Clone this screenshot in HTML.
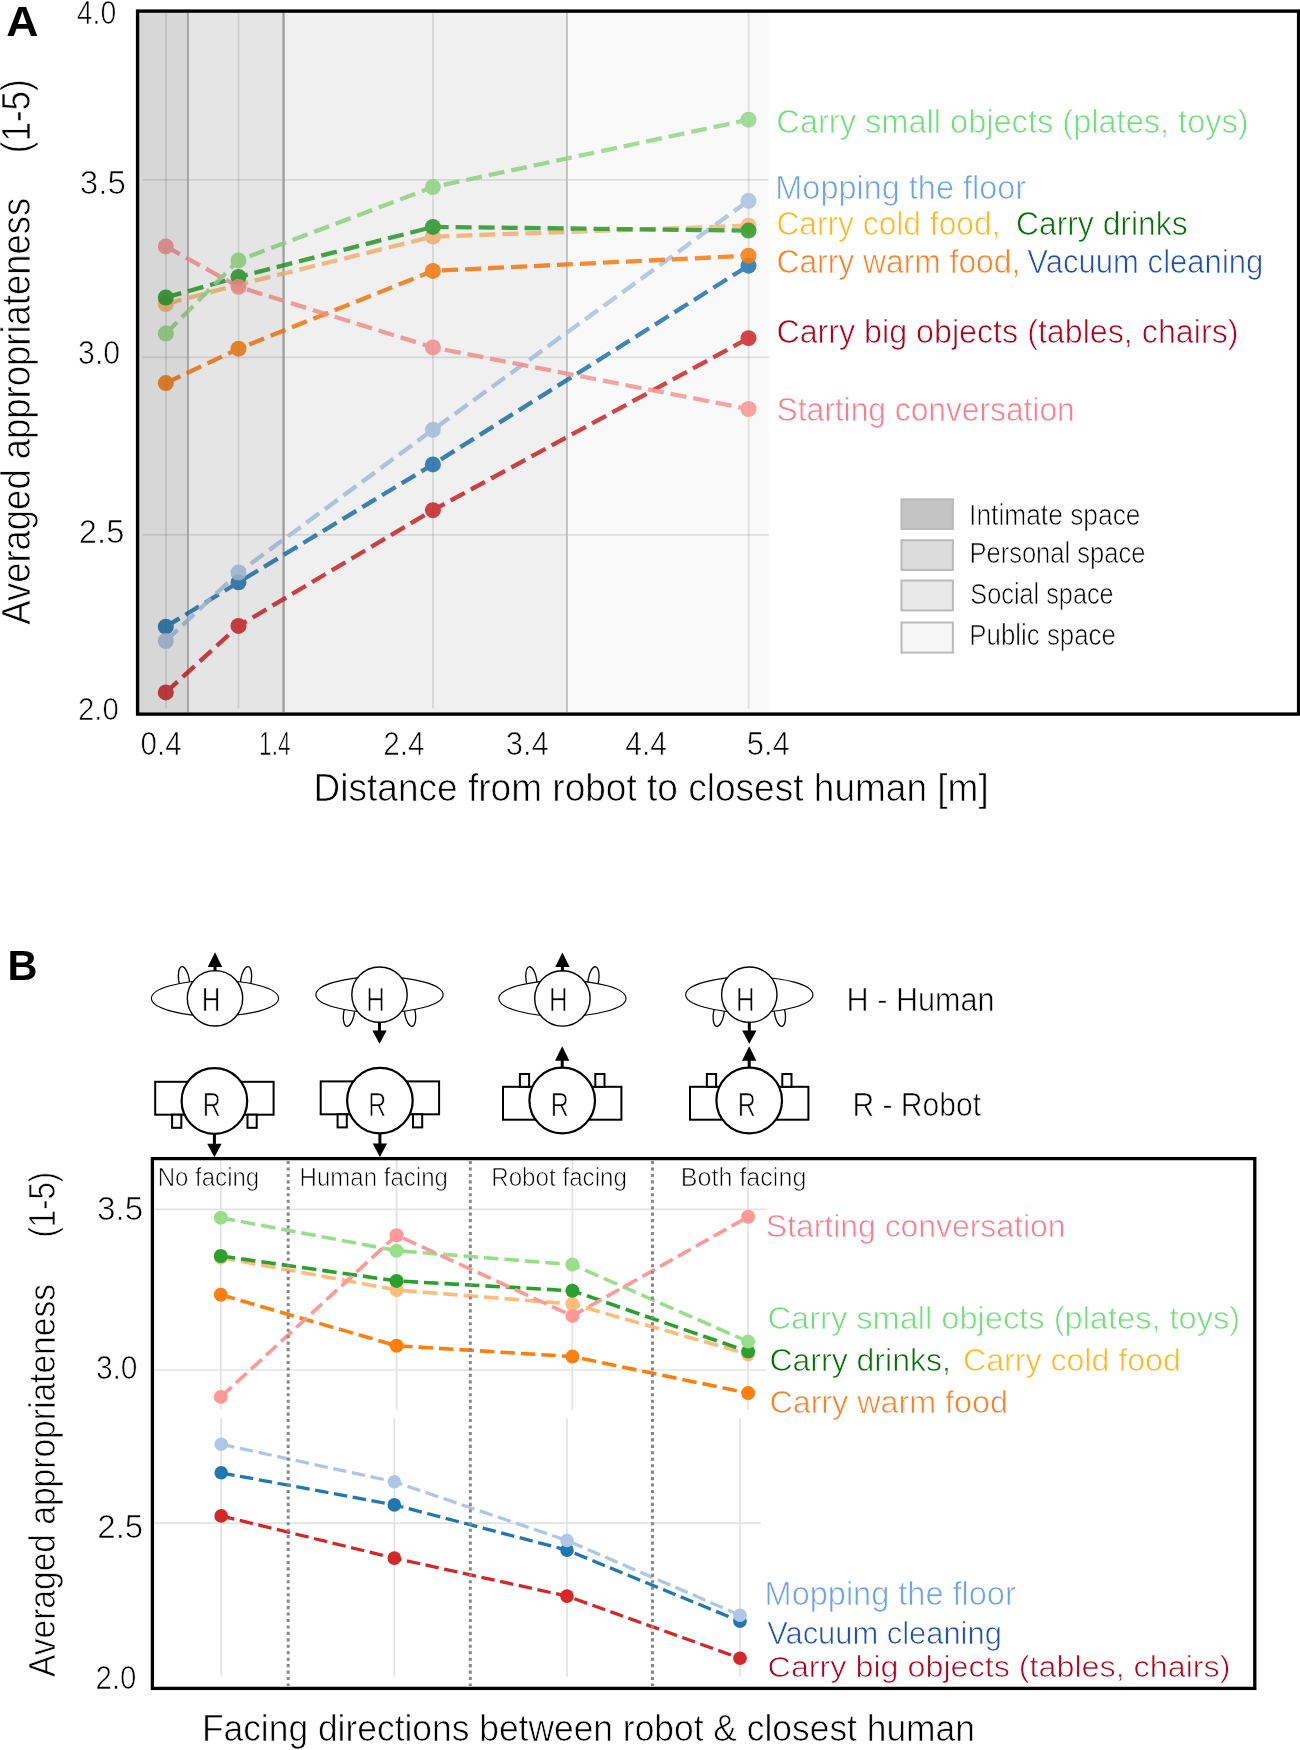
<!DOCTYPE html>
<html><head><meta charset="utf-8"><style>
html,body{margin:0;padding:0;background:#fff;width:1300px;height:1750px;overflow:hidden}
svg{display:block;will-change:transform}
text{font-family:"Liberation Sans",sans-serif;stroke:#fff;stroke-width:0.7px}
</style></head><body>
<svg width="1300" height="1750" viewBox="0 0 1300 1750">
<rect width="1300" height="1750" fill="#fff"/>
<line x1="166.0" y1="13" x2="166.0" y2="708.5" stroke="#000" stroke-opacity="0.10" stroke-width="1.8"/>
<line x1="238.5" y1="13" x2="238.5" y2="708.5" stroke="#000" stroke-opacity="0.10" stroke-width="1.8"/>
<line x1="433.0" y1="13" x2="433.0" y2="708.5" stroke="#000" stroke-opacity="0.10" stroke-width="1.8"/>
<line x1="748.6" y1="13" x2="748.6" y2="708.5" stroke="#000" stroke-opacity="0.10" stroke-width="1.8"/>
<line x1="142.5" y1="179.9" x2="769" y2="179.9" stroke="#000" stroke-opacity="0.10" stroke-width="1.8"/>
<line x1="142.5" y1="357.4" x2="769" y2="357.4" stroke="#000" stroke-opacity="0.10" stroke-width="1.8"/>
<line x1="142.5" y1="534.8" x2="769" y2="534.8" stroke="#000" stroke-opacity="0.10" stroke-width="1.8"/>
<line x1="188" y1="12.8" x2="188" y2="712.3" stroke="#b8b8b8" stroke-width="1.8"/>
<line x1="283.6" y1="12.8" x2="283.6" y2="712.3" stroke="#a8a8a8" stroke-width="2.2"/>
<line x1="567" y1="12.8" x2="567" y2="712.3" stroke="#c8c8c8" stroke-width="1.8"/>
<g opacity="0.86"><polyline points="165.8,626.7 238.5,582.3 432.9,464.4 748.5,265.7" fill="none" stroke="#1f77b4" stroke-width="4.3" stroke-dasharray="16 7"/>
<circle cx="165.8" cy="626.7" r="8" fill="#1f77b4"/>
<circle cx="238.5" cy="582.3" r="8" fill="#1f77b4"/>
<circle cx="432.9" cy="464.4" r="8" fill="#1f77b4"/>
<circle cx="748.5" cy="265.7" r="8" fill="#1f77b4"/>
</g>
<g opacity="0.86"><polyline points="165.8,641.0 238.5,572.6 432.9,429.8 748.5,200.8" fill="none" stroke="#aec7e8" stroke-width="4.3" stroke-dasharray="16 7"/>
<circle cx="165.8" cy="641.0" r="8" fill="#aec7e8"/>
<circle cx="238.5" cy="572.6" r="8" fill="#aec7e8"/>
<circle cx="432.9" cy="429.8" r="8" fill="#aec7e8"/>
<circle cx="748.5" cy="200.8" r="8" fill="#aec7e8"/>
</g>
<g opacity="0.86"><polyline points="165.8,304.0 238.5,284.7 432.9,236.6 748.5,225.7" fill="none" stroke="#ffbb78" stroke-width="4.3" stroke-dasharray="16 7"/>
<circle cx="165.8" cy="304.0" r="8" fill="#ffbb78"/>
<circle cx="238.5" cy="284.7" r="8" fill="#ffbb78"/>
<circle cx="432.9" cy="236.6" r="8" fill="#ffbb78"/>
<circle cx="748.5" cy="225.7" r="8" fill="#ffbb78"/>
</g>
<g opacity="0.86"><polyline points="165.8,297.5 238.5,277.0 432.9,226.9 748.5,230.6" fill="none" stroke="#2ca02c" stroke-width="4.3" stroke-dasharray="16 7"/>
<circle cx="165.8" cy="297.5" r="8" fill="#2ca02c"/>
<circle cx="238.5" cy="277.0" r="8" fill="#2ca02c"/>
<circle cx="432.9" cy="226.9" r="8" fill="#2ca02c"/>
<circle cx="748.5" cy="230.6" r="8" fill="#2ca02c"/>
</g>
<g opacity="0.86"><polyline points="165.8,383.1 238.5,348.7 432.9,270.9 748.5,255.7" fill="none" stroke="#ff7f0e" stroke-width="4.3" stroke-dasharray="16 7"/>
<circle cx="165.8" cy="383.1" r="8" fill="#ff7f0e"/>
<circle cx="238.5" cy="348.7" r="8" fill="#ff7f0e"/>
<circle cx="432.9" cy="270.9" r="8" fill="#ff7f0e"/>
<circle cx="748.5" cy="255.7" r="8" fill="#ff7f0e"/>
</g>
<g opacity="0.86"><polyline points="165.8,333.6 238.5,260.4 432.9,187.1 748.5,119.7" fill="none" stroke="#98df8a" stroke-width="4.3" stroke-dasharray="16 7"/>
<circle cx="165.8" cy="333.6" r="8" fill="#98df8a"/>
<circle cx="238.5" cy="260.4" r="8" fill="#98df8a"/>
<circle cx="432.9" cy="187.1" r="8" fill="#98df8a"/>
<circle cx="748.5" cy="119.7" r="8" fill="#98df8a"/>
</g>
<g opacity="0.86"><polyline points="165.8,692.4 238.5,625.9 432.9,510.2 748.5,338.2" fill="none" stroke="#d62728" stroke-width="4.3" stroke-dasharray="16 7"/>
<circle cx="165.8" cy="692.4" r="8" fill="#d62728"/>
<circle cx="238.5" cy="625.9" r="8" fill="#d62728"/>
<circle cx="432.9" cy="510.2" r="8" fill="#d62728"/>
<circle cx="748.5" cy="338.2" r="8" fill="#d62728"/>
</g>
<g opacity="0.86"><polyline points="165.8,246.4 238.5,286.8 432.9,347.4 748.5,409.0" fill="none" stroke="#ff9896" stroke-width="4.3" stroke-dasharray="16 7"/>
<circle cx="165.8" cy="246.4" r="8" fill="#ff9896"/>
<circle cx="238.5" cy="286.8" r="8" fill="#ff9896"/>
<circle cx="432.9" cy="347.4" r="8" fill="#ff9896"/>
<circle cx="748.5" cy="409.0" r="8" fill="#ff9896"/>
</g>
<rect x="139.3" y="12.8" width="629.2" height="699.5" fill="#000" fill-opacity="0.024"/>
<rect x="139.3" y="12.8" width="427.7" height="699.5" fill="#000" fill-opacity="0.036"/>
<rect x="139.3" y="12.8" width="144.2" height="699.5" fill="#000" fill-opacity="0.042"/>
<rect x="139.3" y="12.8" width="48.7" height="699.5" fill="#000" fill-opacity="0.057"/>
<rect x="137.6" y="11.1" width="1161" height="703" fill="none" stroke="#000" stroke-width="3.4"/>
<rect x="901.5" y="499.3" width="51.4" height="29.7" fill="#c4c4c4" stroke="#bababa" stroke-width="2"/>
<rect x="901.5" y="540.2" width="51.4" height="29.7" fill="#dcdcdc" stroke="#bababa" stroke-width="2"/>
<rect x="901.5" y="580.5" width="51.4" height="29.9" fill="#e9e9e9" stroke="#bababa" stroke-width="2"/>
<rect x="901.5" y="622.5" width="51.4" height="30.1" fill="#f6f6f6" stroke="#bababa" stroke-width="2"/>
<text transform="translate(969.06,524.60) scale(0.9194,1)" font-size="28.70" fill="#000">Intimate space</text>
<text transform="translate(969.39,563.00) scale(0.8908,1)" font-size="28.70" fill="#000">Personal space</text>
<text transform="translate(970.36,603.80) scale(0.8808,1)" font-size="28.70" fill="#000">Social space</text>
<text transform="translate(969.37,645.40) scale(0.9006,1)" font-size="28.70" fill="#000">Public space</text>
<text transform="translate(776.37,132.80) scale(0.9860,1)" font-size="33.04" fill="#6ee07a">Carry small objects (plates, toys)</text>
<text transform="translate(775.32,198.80) scale(1.0004,1)" font-size="32.46" fill="#6aa3e8">Mopping the floor</text>
<text transform="translate(776.41,235.40) scale(0.9779,1)" font-size="32.46" fill="#ffb81c">Carry cold food,</text>
<text transform="translate(1015.91,235.40) scale(0.9819,1)" font-size="32.46" fill="#007000">Carry drinks</text>
<text transform="translate(776.41,272.80) scale(0.9801,1)" font-size="32.46" fill="#ff7f20">Carry warm food,</text>
<text transform="translate(1027.34,272.80) scale(0.9572,1)" font-size="32.46" fill="#1f4fad">Vacuum cleaning</text>
<text transform="translate(776.39,343.20) scale(0.9591,1)" font-size="33.62" fill="#b0001e">Carry big objects (tables, chairs)</text>
<text transform="translate(776.57,420.80) scale(0.9443,1)" font-size="33.62" fill="#ff7a8c">Starting conversation</text>
<text transform="translate(76.86,24.20) scale(0.8467,1)" font-size="33.48" fill="#000">4.0</text>
<text transform="translate(79.75,194.00) scale(0.9966,1)" font-size="33.33" fill="#000">3.5</text>
<text transform="translate(78.07,364.20) scale(0.9119,1)" font-size="33.19" fill="#000">3.0</text>
<text transform="translate(78.87,542.80) scale(0.9640,1)" font-size="33.91" fill="#000">2.5</text>
<text transform="translate(77.93,720.40) scale(0.9116,1)" font-size="32.17" fill="#000">2.0</text>
<text transform="translate(140.52,755.00) scale(0.8831,1)" font-size="33.48" fill="#000">0.4</text>
<text transform="translate(259.10,755.00) scale(0.6774,1)" font-size="33.48" fill="#000">1.4</text>
<text transform="translate(383.31,755.00) scale(0.8876,1)" font-size="33.48" fill="#000">2.4</text>
<text transform="translate(505.74,755.00) scale(0.9265,1)" font-size="33.48" fill="#000">3.4</text>
<text transform="translate(625.33,755.00) scale(0.8916,1)" font-size="33.48" fill="#000">4.4</text>
<text transform="translate(746.76,755.00) scale(0.9260,1)" font-size="33.48" fill="#000">5.4</text>
<text transform="translate(313.54,800.80) scale(0.9759,1)" font-size="37.97" fill="#000">Distance from robot to closest human [m]</text>
<text transform="translate(29.70,624.69) rotate(-90) scale(0.8983,1)" font-size="40.58" fill="#000">Averaged appropriateness</text>
<text transform="translate(29.70,153.19) rotate(-90) scale(0.8617,1)" font-size="40.58" fill="#000">(1-5)</text>
<text transform="translate(6.18,35.80) scale(1.0299,1)" font-size="43.33" fill="#000" font-weight="bold" style="stroke:none">A</text>
<text transform="translate(7.40,979.70) scale(0.9603,1)" font-size="43.19" fill="#000" font-weight="bold" style="stroke:none">B</text>
<ellipse cx="184.0" cy="980.3" rx="5.3" ry="13.8" transform="rotate(-9 184.0 980.3)" fill="#fff" stroke="#000" stroke-width="1.3"/>
<ellipse cx="246.0" cy="980.3" rx="5.3" ry="13.8" transform="rotate(9 246.0 980.3)" fill="#fff" stroke="#000" stroke-width="1.3"/>
<ellipse cx="215.0" cy="998.3" rx="63.6" ry="17.8" fill="#fff" stroke="#000" stroke-width="1.15"/>
<circle cx="215.0" cy="998.3" r="27.7" fill="#fff" stroke="#000" stroke-width="1.4"/>
<rect x="213.5" y="966.3" width="3" height="5" fill="#000"/>
<polygon points="207.8,967.0 222.2,967.0 215.0,952.3" fill="#000"/>
<text transform="translate(201.67,1011.30) scale(0.7749,1)" font-size="33.33" fill="#000">H</text>
<rect x="155.2" y="1081.8" width="118.4" height="32.9" fill="#fff" stroke="#000" stroke-width="2"/>
<rect x="172.1" y="1114.7" width="9.2" height="13.1" fill="#fff" stroke="#000" stroke-width="2"/>
<rect x="247.5" y="1114.7" width="9.2" height="13.1" fill="#fff" stroke="#000" stroke-width="2"/>
<circle cx="214.4" cy="1101.0" r="32.8" fill="#fff" stroke="#000" stroke-width="2.2"/>
<rect x="212.9" y="1134.0" width="3" height="10.5" fill="#000"/>
<polygon points="207.20000000000002,1143.8 221.6,1143.8 214.4,1157.3" fill="#000"/>
<text transform="translate(202.84,1115.50) scale(0.7626,1)" font-size="32.75" fill="#000">R</text>
<ellipse cx="349.0" cy="1012.7" rx="5.3" ry="13.8" transform="rotate(9 349.0 1012.7)" fill="#fff" stroke="#000" stroke-width="1.3"/>
<ellipse cx="410.0" cy="1012.7" rx="5.3" ry="13.8" transform="rotate(-9 410.0 1012.7)" fill="#fff" stroke="#000" stroke-width="1.3"/>
<ellipse cx="379.5" cy="994.7" rx="63.6" ry="17.8" fill="#fff" stroke="#000" stroke-width="1.15"/>
<circle cx="379.5" cy="994.7" r="27.7" fill="#fff" stroke="#000" stroke-width="1.4"/>
<rect x="378.0" y="1021.7" width="3" height="9.5" fill="#000"/>
<polygon points="372.3,1030.5 386.7,1030.5 379.5,1043.7" fill="#000"/>
<text transform="translate(366.17,1011.30) scale(0.7749,1)" font-size="33.33" fill="#000">H</text>
<rect x="320.7" y="1081.4" width="118.4" height="32.9" fill="#fff" stroke="#000" stroke-width="2"/>
<rect x="337.6" y="1114.3" width="9.2" height="13.1" fill="#fff" stroke="#000" stroke-width="2"/>
<rect x="413.0" y="1114.3" width="9.2" height="13.1" fill="#fff" stroke="#000" stroke-width="2"/>
<circle cx="379.9" cy="1100.6" r="32.8" fill="#fff" stroke="#000" stroke-width="2.2"/>
<rect x="378.4" y="1133.6" width="3" height="10.5" fill="#000"/>
<polygon points="372.7,1143.3999999999999 387.09999999999997,1143.3999999999999 379.9,1156.8999999999999" fill="#000"/>
<text transform="translate(368.34,1115.50) scale(0.7626,1)" font-size="32.75" fill="#000">R</text>
<ellipse cx="531.4" cy="980.4" rx="5.3" ry="13.8" transform="rotate(-9 531.4 980.4)" fill="#fff" stroke="#000" stroke-width="1.3"/>
<ellipse cx="593.4" cy="980.4" rx="5.3" ry="13.8" transform="rotate(9 593.4 980.4)" fill="#fff" stroke="#000" stroke-width="1.3"/>
<ellipse cx="562.4" cy="998.4" rx="63.6" ry="17.8" fill="#fff" stroke="#000" stroke-width="1.15"/>
<circle cx="562.4" cy="998.4" r="27.7" fill="#fff" stroke="#000" stroke-width="1.4"/>
<rect x="560.9" y="966.4" width="3" height="5" fill="#000"/>
<polygon points="555.1999999999999,967.1 569.6,967.1 562.4,952.4" fill="#000"/>
<text transform="translate(549.07,1011.30) scale(0.7749,1)" font-size="33.33" fill="#000">H</text>
<rect x="503.00000000000006" y="1086.8" width="118.4" height="32.9" fill="#fff" stroke="#000" stroke-width="2"/>
<rect x="519.9" y="1074.0" width="9.2" height="12.8" fill="#fff" stroke="#000" stroke-width="2"/>
<rect x="595.3" y="1074.0" width="9.2" height="12.8" fill="#fff" stroke="#000" stroke-width="2"/>
<circle cx="562.2" cy="1100.5" r="32.8" fill="#fff" stroke="#000" stroke-width="2.2"/>
<rect x="560.7" y="1060.0" width="3" height="7.5" fill="#000"/>
<polygon points="555.0,1060.7 569.4000000000001,1060.7 562.2,1046.2" fill="#000"/>
<text transform="translate(550.64,1115.50) scale(0.7626,1)" font-size="32.75" fill="#000">R</text>
<ellipse cx="718.8" cy="1012.7" rx="5.3" ry="13.8" transform="rotate(9 718.8 1012.7)" fill="#fff" stroke="#000" stroke-width="1.3"/>
<ellipse cx="779.8" cy="1012.7" rx="5.3" ry="13.8" transform="rotate(-9 779.8 1012.7)" fill="#fff" stroke="#000" stroke-width="1.3"/>
<ellipse cx="749.3" cy="994.7" rx="63.6" ry="17.8" fill="#fff" stroke="#000" stroke-width="1.15"/>
<circle cx="749.3" cy="994.7" r="27.7" fill="#fff" stroke="#000" stroke-width="1.4"/>
<rect x="747.8" y="1021.7" width="3" height="9.5" fill="#000"/>
<polygon points="742.0999999999999,1030.5 756.5,1030.5 749.3,1043.7" fill="#000"/>
<text transform="translate(735.97,1011.30) scale(0.7749,1)" font-size="33.33" fill="#000">H</text>
<rect x="690.0" y="1086.8" width="118.4" height="32.9" fill="#fff" stroke="#000" stroke-width="2"/>
<rect x="706.9" y="1074.0" width="9.2" height="12.8" fill="#fff" stroke="#000" stroke-width="2"/>
<rect x="782.3" y="1074.0" width="9.2" height="12.8" fill="#fff" stroke="#000" stroke-width="2"/>
<circle cx="749.2" cy="1100.5" r="32.8" fill="#fff" stroke="#000" stroke-width="2.2"/>
<rect x="747.7" y="1060.0" width="3" height="7.5" fill="#000"/>
<polygon points="742.0,1060.7 756.4000000000001,1060.7 749.2,1046.2" fill="#000"/>
<text transform="translate(737.64,1115.50) scale(0.7626,1)" font-size="32.75" fill="#000">R</text>
<text transform="translate(846.57,1011.30) scale(0.9072,1)" font-size="33.77" fill="#000">H - Human</text>
<text transform="translate(852.42,1115.70) scale(0.8944,1)" font-size="33.62" fill="#000">R - Robot</text>
<line x1="220.8" y1="1160" x2="220.8" y2="1409.6" stroke="#e3e3e3" stroke-width="1.7"/>
<line x1="396.6" y1="1160" x2="396.6" y2="1409.6" stroke="#e3e3e3" stroke-width="1.7"/>
<line x1="572.4" y1="1160" x2="572.4" y2="1409.6" stroke="#e3e3e3" stroke-width="1.7"/>
<line x1="748.1" y1="1160" x2="748.1" y2="1409.6" stroke="#e3e3e3" stroke-width="1.7"/>
<line x1="221.2" y1="1418.2" x2="221.2" y2="1676.6" stroke="#e3e3e3" stroke-width="1.7"/>
<line x1="394.3" y1="1418.2" x2="394.3" y2="1676.6" stroke="#e3e3e3" stroke-width="1.7"/>
<line x1="567.0" y1="1418.2" x2="567.0" y2="1676.6" stroke="#e3e3e3" stroke-width="1.7"/>
<line x1="740.0" y1="1418.2" x2="740.0" y2="1676.6" stroke="#e3e3e3" stroke-width="1.7"/>
<line x1="154.5" y1="1209.4" x2="766.5" y2="1209.4" stroke="#e3e3e3" stroke-width="1.7"/>
<line x1="154.5" y1="1370.0" x2="766.5" y2="1370.0" stroke="#e3e3e3" stroke-width="1.7"/>
<line x1="154.5" y1="1523.1" x2="760.8" y2="1523.1" stroke="#e3e3e3" stroke-width="1.7"/>
<polyline points="220.8,1257.5 396.6,1290.0 572.4,1304.0 748.1,1354.2" fill="none" stroke="#ffbb78" stroke-width="3.6" stroke-dasharray="14.5 6"/>
<circle cx="220.8" cy="1257.5" r="7.0" fill="#ffbb78"/>
<circle cx="396.6" cy="1290.0" r="7.0" fill="#ffbb78"/>
<circle cx="572.4" cy="1304.0" r="7.0" fill="#ffbb78"/>
<circle cx="748.1" cy="1354.2" r="7.0" fill="#ffbb78"/>
<polyline points="220.8,1256.0 396.6,1280.9 572.4,1290.8 748.1,1351.6" fill="none" stroke="#2ca02c" stroke-width="3.6" stroke-dasharray="14.5 6"/>
<circle cx="220.8" cy="1256.0" r="7.0" fill="#2ca02c"/>
<circle cx="396.6" cy="1280.9" r="7.0" fill="#2ca02c"/>
<circle cx="572.4" cy="1290.8" r="7.0" fill="#2ca02c"/>
<circle cx="748.1" cy="1351.6" r="7.0" fill="#2ca02c"/>
<polyline points="220.8,1294.8 396.6,1345.8 572.4,1356.6 748.1,1393.1" fill="none" stroke="#ff7f0e" stroke-width="3.6" stroke-dasharray="14.5 6"/>
<circle cx="220.8" cy="1294.8" r="7.0" fill="#ff7f0e"/>
<circle cx="396.6" cy="1345.8" r="7.0" fill="#ff7f0e"/>
<circle cx="572.4" cy="1356.6" r="7.0" fill="#ff7f0e"/>
<circle cx="748.1" cy="1393.1" r="7.0" fill="#ff7f0e"/>
<polyline points="220.8,1217.8 396.6,1250.7 572.4,1264.6 748.1,1341.6" fill="none" stroke="#98df8a" stroke-width="3.6" stroke-dasharray="14.5 6"/>
<circle cx="220.8" cy="1217.8" r="7.0" fill="#98df8a"/>
<circle cx="396.6" cy="1250.7" r="7.0" fill="#98df8a"/>
<circle cx="572.4" cy="1264.6" r="7.0" fill="#98df8a"/>
<circle cx="748.1" cy="1341.6" r="7.0" fill="#98df8a"/>
<polyline points="220.8,1396.9 396.6,1235.2 572.4,1315.9 748.1,1216.8" fill="none" stroke="#ff9896" stroke-width="3.6" stroke-dasharray="14.5 6"/>
<circle cx="220.8" cy="1396.9" r="7.0" fill="#ff9896"/>
<circle cx="396.6" cy="1235.2" r="7.0" fill="#ff9896"/>
<circle cx="572.4" cy="1315.9" r="7.0" fill="#ff9896"/>
<circle cx="748.1" cy="1216.8" r="7.0" fill="#ff9896"/>
<polyline points="221.2,1472.8 394.3,1504.9 567.0,1550.1 740.0,1621.2" fill="none" stroke="#1f77b4" stroke-width="3.3" stroke-dasharray="13.5 5.6"/>
<circle cx="221.2" cy="1472.8" r="6.8" fill="#1f77b4"/>
<circle cx="394.3" cy="1504.9" r="6.8" fill="#1f77b4"/>
<circle cx="567.0" cy="1550.1" r="6.8" fill="#1f77b4"/>
<circle cx="740.0" cy="1621.2" r="6.8" fill="#1f77b4"/>
<polyline points="221.2,1444.3 394.3,1481.8 567.0,1540.5 740.0,1615.2" fill="none" stroke="#aec7e8" stroke-width="3.3" stroke-dasharray="13.5 5.6"/>
<circle cx="221.2" cy="1444.3" r="6.8" fill="#aec7e8"/>
<circle cx="394.3" cy="1481.8" r="6.8" fill="#aec7e8"/>
<circle cx="567.0" cy="1540.5" r="6.8" fill="#aec7e8"/>
<circle cx="740.0" cy="1615.2" r="6.8" fill="#aec7e8"/>
<polyline points="221.2,1515.9 394.3,1558.1 567.0,1596.1 740.0,1658.2" fill="none" stroke="#d62728" stroke-width="3.3" stroke-dasharray="13.5 5.6"/>
<circle cx="221.2" cy="1515.9" r="6.8" fill="#d62728"/>
<circle cx="394.3" cy="1558.1" r="6.8" fill="#d62728"/>
<circle cx="567.0" cy="1596.1" r="6.8" fill="#d62728"/>
<circle cx="740.0" cy="1658.2" r="6.8" fill="#d62728"/>
<line x1="288.2" y1="1161" x2="288.2" y2="1686" stroke="#888" stroke-width="3" stroke-dasharray="3.1 3.35"/>
<line x1="470.3" y1="1161" x2="470.3" y2="1686" stroke="#888" stroke-width="3" stroke-dasharray="3.1 3.35"/>
<line x1="652.5" y1="1161" x2="652.5" y2="1686" stroke="#888" stroke-width="3" stroke-dasharray="3.1 3.35"/>
<rect x="152.4" y="1158.6" width="1102.4" height="529.8" fill="none" stroke="#000" stroke-width="3.3"/>
<text transform="translate(157.72,1186.30) scale(0.9476,1)" font-size="25.36" fill="#000">No facing</text>
<text transform="translate(299.62,1186.30) scale(0.9482,1)" font-size="25.36" fill="#000">Human facing</text>
<text transform="translate(491.20,1186.30) scale(0.9544,1)" font-size="25.36" fill="#000">Robot facing</text>
<text transform="translate(680.83,1186.30) scale(0.9895,1)" font-size="25.36" fill="#000">Both facing</text>
<text transform="translate(96.95,1220.30) scale(0.9860,1)" font-size="33.77" fill="#000">3.5</text>
<text transform="translate(95.88,1379.40) scale(0.8873,1)" font-size="33.77" fill="#000">3.0</text>
<text transform="translate(97.25,1537.80) scale(0.9795,1)" font-size="33.77" fill="#000">2.5</text>
<text transform="translate(95.53,1688.70) scale(0.8745,1)" font-size="33.62" fill="#000">2.0</text>
<text transform="translate(765.86,1236.90) scale(1.0051,1)" font-size="31.74" fill="#ff7a8c">Starting conversation</text>
<text transform="translate(767.57,1329.20) scale(1.0272,1)" font-size="31.74" fill="#6ee07a">Carry small objects (plates, toys)</text>
<text transform="translate(769.40,1370.80) scale(1.0089,1)" font-size="31.74" fill="#007000">Carry drinks,</text>
<text transform="translate(962.99,1370.80) scale(1.0122,1)" font-size="31.74" fill="#ffb81c">Carry cold food</text>
<text transform="translate(769.39,1413.00) scale(1.0165,1)" font-size="31.74" fill="#ff7f20">Carry warm food</text>
<text transform="translate(764.62,1605.40) scale(1.0016,1)" font-size="32.46" fill="#6aa3e8">Mopping the floor</text>
<text transform="translate(767.15,1643.80) scale(0.9921,1)" font-size="31.16" fill="#1f4fad">Vacuum cleaning</text>
<text transform="translate(767.58,1677.30) scale(1.0980,1)" font-size="29.42" fill="#b0001e">Carry big objects (tables, chairs)</text>
<text transform="translate(201.88,1740.60) scale(0.9693,1)" font-size="36.52" fill="#000">Facing directions between robot &amp; closest human</text>
<text transform="translate(54.50,1677.08) rotate(-90) scale(0.9193,1)" font-size="36.52" fill="#000">Averaged appropriateness</text>
<text transform="translate(54.50,1237.54) rotate(-90) scale(0.8500,1)" font-size="36.52" fill="#000">(1-5)</text>
</svg>
</body></html>
